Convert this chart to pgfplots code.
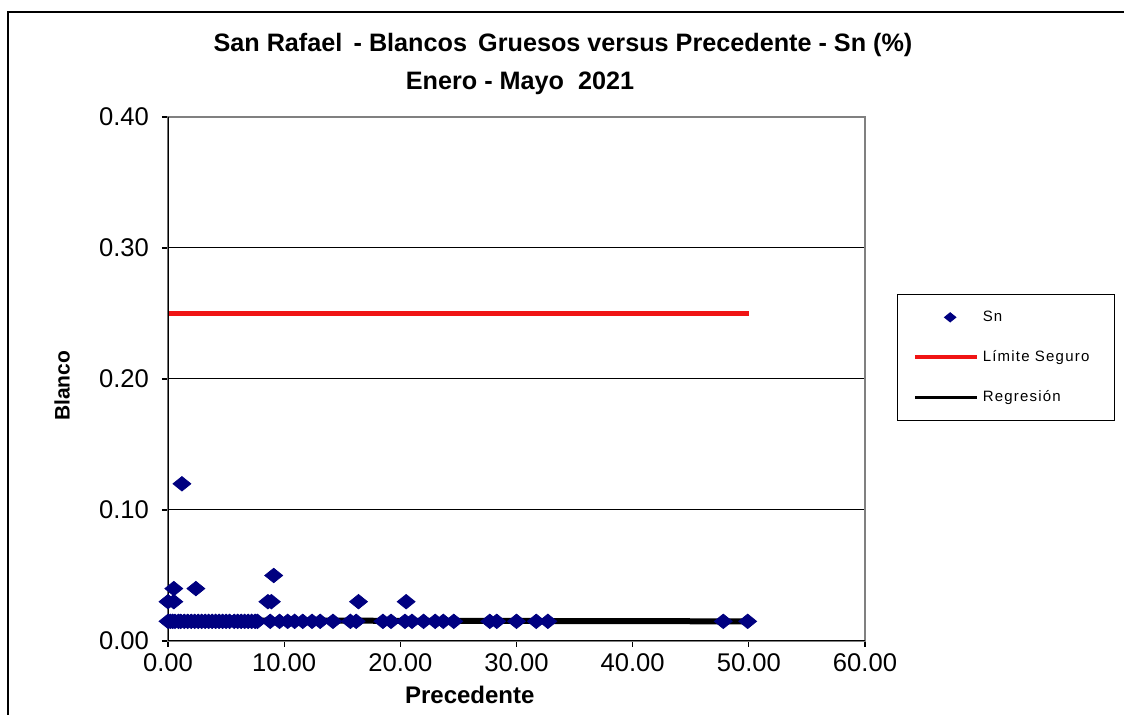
\documentclass[border=0pt]{standalone}
\usepackage{fontspec}
\setmainfont{Liberation Sans}
\usepackage{pgfplots}
\pgfplotsset{compat=1.18}
\definecolor{snblue}{RGB}{0,0,128}
\definecolor{redline}{RGB}{240,20,20}
\pgfplotsset{
  snlegend/.style={legend image code/.code={\path[draw=none, fill=none] (0pt,0pt) -- (31pt,0pt); \draw[##1, mark size=2.2pt, mark repeat=2, mark phase=2] plot coordinates {(2pt,0pt) (17.5pt,0pt) (33pt,0pt)};}},
  linelegend/.style={legend image code/.code={\draw[##1, line width=1.6pt] (0pt,0pt) -- (31pt,0pt);}},
}
\begin{document}
\begin{tikzpicture}
\useasboundingbox (0,0) rectangle (562pt,357.5pt);
\draw[line width=1pt] (4pt,0pt) -- (4pt,351.5pt) -- (562pt,351.5pt);
\node[font=\bfseries\fontsize{12.6}{14}\selectfont] at (281.5pt,335pt) {San Rafael \,- Blancos \,Gruesos versus Precedente - Sn (\%)};
\node[font=\bfseries\fontsize{12.6}{14}\selectfont] at (260pt,316pt) {Enero - Mayo \ 2021};
\begin{axis}[
  at={(84pt,37pt)}, anchor=south west,
  scale only axis, width=348.5pt, height=262pt,
  xmin=0, xmax=60, ymin=0, ymax=0.4,
  xtick={0,10,...,60}, ytick={0,0.1,0.2,0.3,0.4},
  tick pos=left, tick align=outside,
  major tick length=3pt,
  tick style={black, line width=0.6pt},
  /pgf/number format/assume math mode=true,
  xticklabel style={/pgf/number format/.cd, fixed, fixed zerofill, precision=2},
  yticklabel style={xshift=-3pt, /pgf/number format/.cd, fixed, fixed zerofill, precision=2},
  ticklabel style={font=\fontsize{12.8}{14}\selectfont},
  ymajorgrids, grid style={black, line width=0.5pt},
  axis line style={gray, line width=0.8pt},
  every axis y label/.style={at={(axis description cs:-0.152,0.487)}, rotate=90, anchor=center, font=\bfseries\fontsize{10.5}{12}\selectfont},
  every axis x label/.style={at={(axis description cs:0.433,-0.103)}, anchor=center, font=\bfseries\fontsize{12}{14}\selectfont},
  xlabel={Precedente}, ylabel={Blanco},
  legend style={at={(axis description cs:1.0459,0.6622)}, anchor=north west,
    draw=black, line width=0.6pt, fill=white, inner xsep=8pt, inner ysep=6pt,
    row sep=9pt, cells={anchor=west},
    font=\fontsize{7.5}{9}\selectfont\addfontfeature{LetterSpace=8}},
]
\addplot[only marks, mark=diamond*, mark size=3.6pt, mark options={xscale=1.65, fill=snblue, draw=snblue}, color=snblue, snlegend]
coordinates {
(0.0,0.015) (0.2,0.015) (0.4,0.015) (0.6,0.015) (0.9,0.015) (1.1,0.015) (1.4,0.015) (1.7,0.015)
(2.0,0.015) (2.3,0.015) (2.6,0.015) (2.9,0.015) (3.2,0.015) (3.5,0.015) (3.8,0.015) (4.1,0.015)
(4.4,0.015) (4.7,0.015) (5.0,0.015) (5.3,0.015) (5.7,0.015) (6.0,0.015) (6.3,0.015) (6.6,0.015)
(6.9,0.015) (7.2,0.015) (7.5,0.015) (7.7,0.015) (8.8,0.015) (9.6,0.015) (10.3,0.015) (10.9,0.015)
(11.6,0.015) (12.4,0.015) (13.1,0.015) (14.2,0.015) (15.7,0.015) (16.2,0.015) (18.5,0.015) (19.2,0.015)
(20.4,0.015) (21.0,0.015) (22.0,0.015) (23.0,0.015) (23.7,0.015) (24.6,0.015) (27.7,0.015) (28.3,0.015)
(30.0,0.015) (31.7,0.015) (32.7,0.015) (47.8,0.015) (49.9,0.015)
(0.0,0.03) (0.5,0.03) (8.6,0.03) (8.9,0.03) (16.4,0.03) (20.5,0.03)
(0.5,0.04) (2.4,0.04) (9.1,0.05) (1.2,0.12)
};
\addlegendentry{\makebox[56pt][l]{Sn}}
\addplot[redline, line width=2.2pt, linelegend]
coordinates {(0,0.25) (50,0.25)};
\addlegendentry{\makebox[56pt][l]{Límite Seguro}}
\addplot[black, line width=3pt, linelegend]
coordinates {(0,0.0157) (50,0.0150)};
\addlegendentry{\makebox[56pt][l]{Regresión}}
\draw[black, line width=1pt] (rel axis cs:0,1) -- (rel axis cs:0,0) -- (rel axis cs:1,0);
\end{axis}
\end{tikzpicture}
\end{document}
